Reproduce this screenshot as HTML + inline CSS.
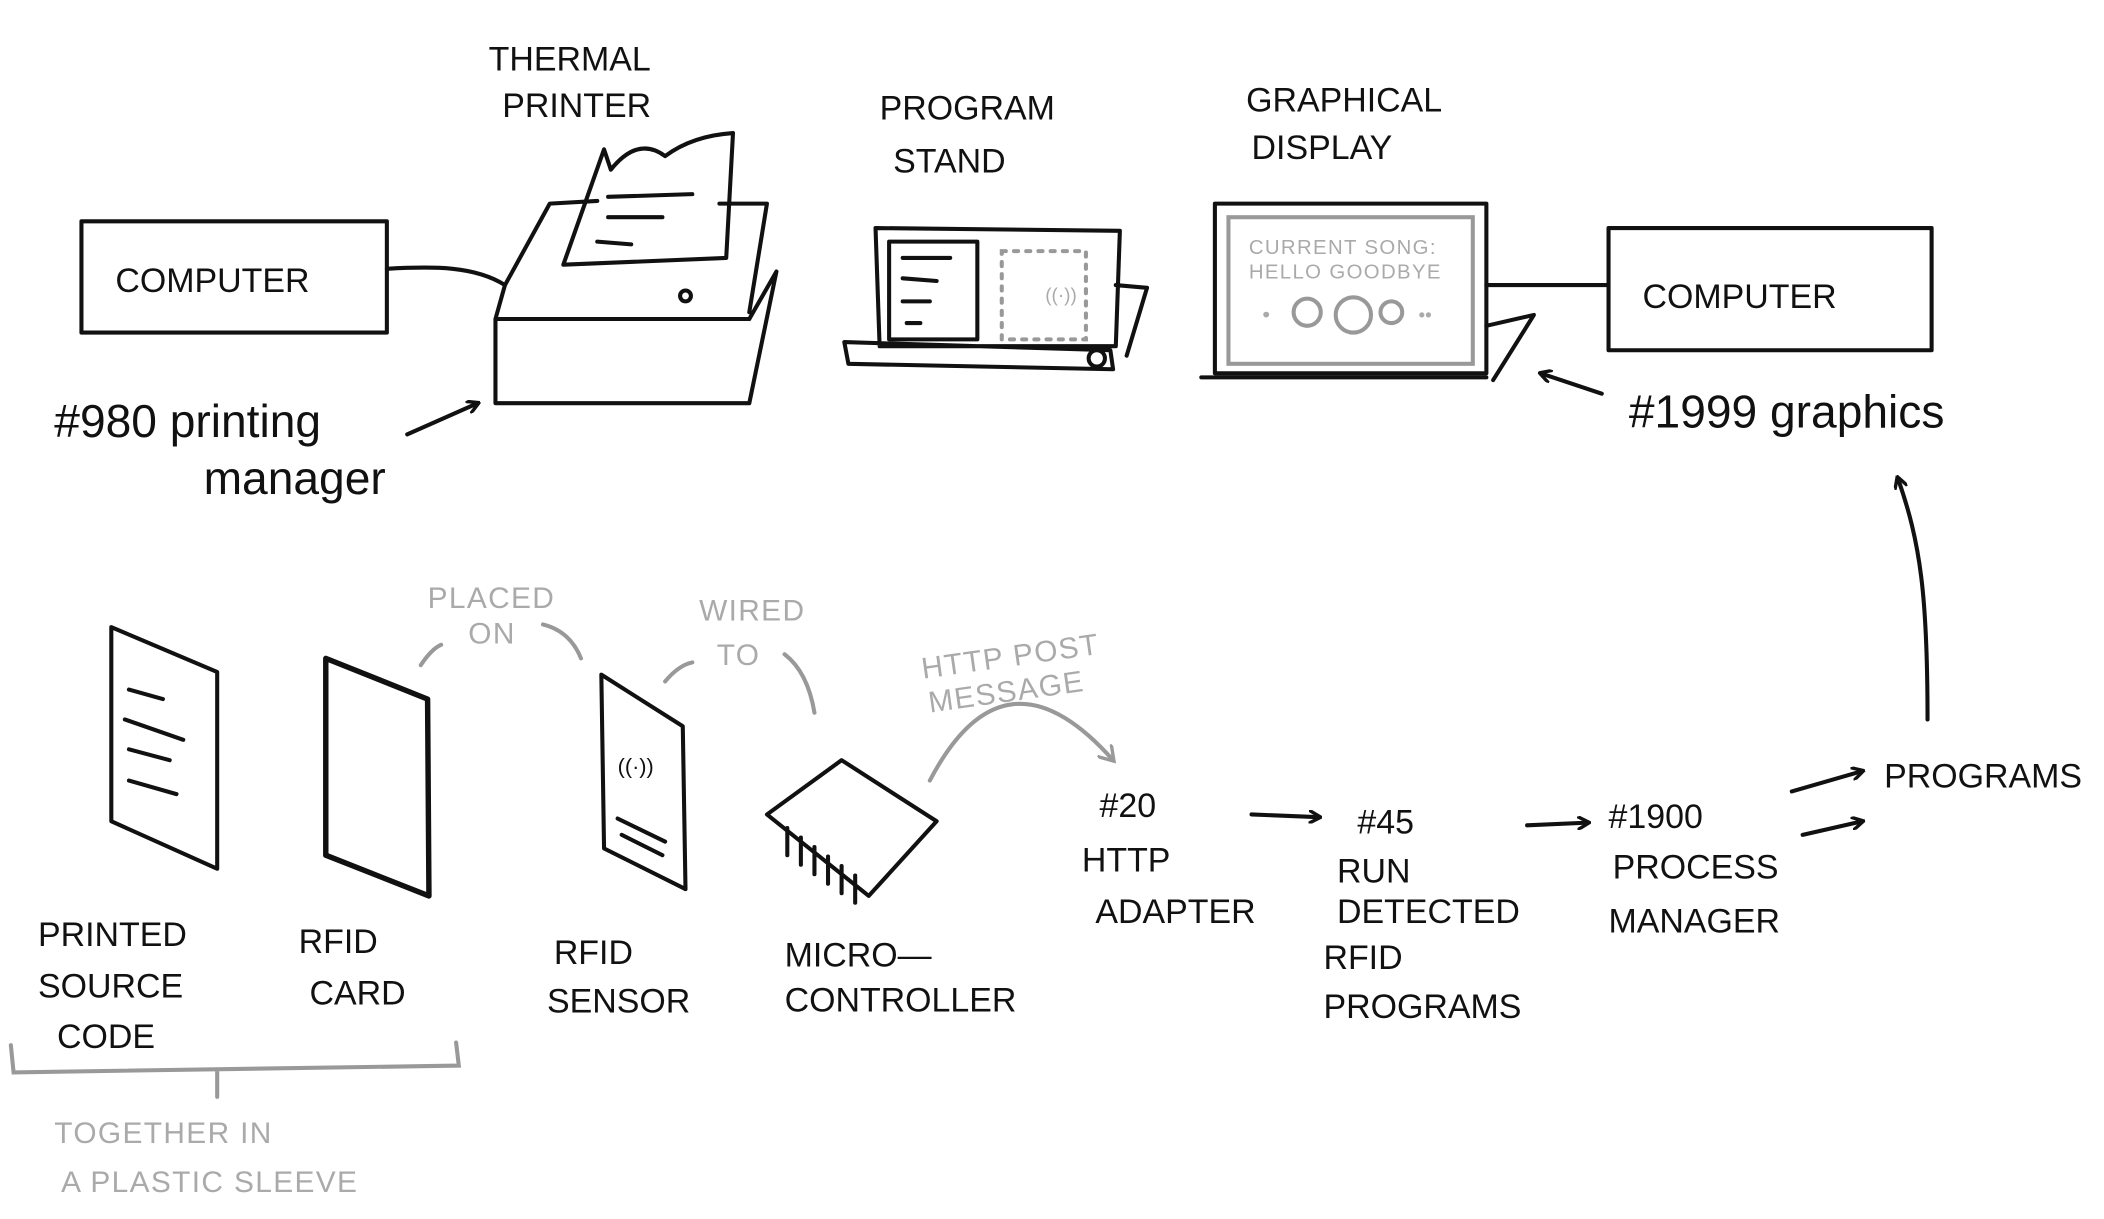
<!DOCTYPE html>
<html><head><meta charset="utf-8"><style>
html,body{margin:0;padding:0;background:#fff;}
svg{display:block}
text{font-family:"Liberation Sans",sans-serif;}
.b{fill:#111;font-size:25px;letter-spacing:0px}
.g{fill:#aaa;font-size:22px;letter-spacing:1px}
.h{fill:#111;font-size:34px}
</style></head><body>
<svg width="2104" height="1219" viewBox="0 0 1550 898" xmlns="http://www.w3.org/2000/svg">
<defs><marker id="a" markerWidth="10" markerHeight="10" refX="8" refY="5" orient="auto" markerUnits="userSpaceOnUse"><path d="M0,0 L9,5 L0,10" fill="none" stroke="#111" stroke-width="2.5"/></marker>
<marker id="ag" markerWidth="14" markerHeight="14" refX="10" refY="7" orient="auto" markerUnits="userSpaceOnUse"><path d="M0,0 L11,7 L0,14" fill="none" stroke="#999" stroke-width="2.5"/></marker></defs>
<g fill="none" stroke="#111" stroke-width="3" stroke-linecap="round" stroke-linejoin="round">
<rect x="60" y="163" width="225" height="82"/>
<path d="M285,198 C320,196 350,196 372,210"/>
<path d="M372,210 L405,150 L440,148 M530,150 L565,150 L552,230 M365,235 L552,235 M365,235 L365,297 L552,297 M552,235 L572,200 L552,297 M372,210 L365,235"/>
<path d="M415,195 L445,110 L450,125 Q470,100 490,115 Q510,100 540,98 L535,190 Z"/>
<path d="M448,145 L510,143 M448,160 L488,160 M440,178 L465,180"/>
<circle cx="505" cy="218" r="4"/>
<path d="M300,320 L352,297" marker-end="url(#a)"/>
<path d="M645,168 L825,170 L822,255 L648,255 Z M622,252 L818,258 L820,272 L625,268 Z M822,210 L845,212 L830,262"/>
<rect x="655" y="178" width="65" height="72"/>
<path d="M665,190 L700,190 M665,205 L690,207 M665,222 L685,222 M668,238 L678,238"/>
<circle cx="808" cy="264" r="6"/>
<rect x="895" y="150" width="200" height="125"/>
<path d="M885,278 L1095,278 M1095,240 L1130,232 L1100,280 M1095,210 L1185,210"/>
<rect x="1185" y="168" width="238" height="90"/>
<path d="M1180,290 L1135,275" marker-end="url(#a)"/>
<path d="M1420,530 C1420,440 1415,400 1398,352" marker-end="url(#a)"/>
<path d="M82,462 L160,495 L160,640 L82,605 Z"/>
<path d="M95,508 L120,515 M92,530 L135,545 M95,552 L125,560 M95,575 L130,585"/>
<path d="M240,485 L315,515 L316,660 L240,630 Z" stroke-width="4"/>
<path d="M443,497 L503,535 L505,655 L445,625 Z"/>
<text x="455" y="570" font-size="16" fill="#111" stroke="none">((·))</text>
<path d="M455,603 L490,620 M458,615 L488,630"/>
<path d="M565,600 L620,560 L690,605 L640,660 Z"/>
<path d="M580,610 L580,630 M590,617 L590,637 M600,624 L600,644 M610,631 L610,651 M620,638 L620,658 M630,645 L630,665"/>
<path d="M922,600 L972,602" marker-end="url(#a)"/>
<path d="M1125,608 L1170,606" marker-end="url(#a)"/>
<path d="M1320,583 L1372,568" marker-end="url(#a)"/>
<path d="M1328,615 L1372,605" marker-end="url(#a)"/>
</g>
<g fill="none" stroke="#999" stroke-width="3" stroke-linecap="round">
<rect x="905" y="160" width="180" height="108"/>
<rect x="738" y="185" width="62" height="65" stroke-dasharray="3,6"/>
<path d="M310,490 Q318,478 325,475 M400,460 Q420,465 428,485" />
<path d="M490,502 Q500,490 510,488 M578,482 Q595,495 600,525"/>
<path d="M685,575 Q740,470 820,560" marker-end="url(#ag)"/>
<path d="M8,770 L10,790 L338,785 L336,768 M160,788 L160,808"/>
<circle cx="963" cy="230" r="10"/><circle cx="997" cy="232" r="13"/><circle cx="1025" cy="230" r="8"/>
</g>
<text x="770" y="222" font-size="14" fill="#aaa">((·))</text>
<text x="920" y="187" font-size="15" fill="#aaa" letter-spacing="1">CURRENT SONG:</text>
<text x="920" y="205" font-size="15" fill="#aaa" letter-spacing="1">HELLO GOODBYE</text>
<text x="930" y="237" font-size="16" fill="#aaa">•</text><text x="1045" y="237" font-size="14" fill="#aaa">••</text>
<text class="b" x="85" y="215" font-size="30">COMPUTER</text>
<text class="b" x="360" y="52" font-size="24">THERMAL</text>
<text class="b" x="370" y="86" font-size="24">PRINTER</text>
<text class="b" x="648" y="88" font-size="24">PROGRAM</text>
<text class="b" x="658" y="127" font-size="24">STAND</text>
<text class="b" x="918" y="82" font-size="24">GRAPHICAL</text>
<text class="b" x="922" y="117" font-size="24">DISPLAY</text>
<text class="b" x="1210" y="227" font-size="34">COMPUTER</text>
<text class="h" x="40" y="322" font-size="38">#980 printing</text>
<text class="h" x="150" y="364">manager</text>
<text class="h" x="1200" y="315">#1999 graphics</text>
<text class="b" x="28" y="697">PRINTED</text>
<text class="b" x="28" y="735">SOURCE</text>
<text class="b" x="42" y="772">CODE</text>
<text class="b" x="220" y="702">RFID</text>
<text class="b" x="228" y="740">CARD</text>
<text class="b" x="408" y="710" font-size="28">RFID</text>
<text class="b" x="403" y="746">SENSOR</text>
<text class="b" x="578" y="712">MICRO—</text>
<text class="b" x="578" y="745" font-size="23">CONTROLLER</text>
<text class="b" x="810" y="602" font-size="32">#20</text>
<text class="b" x="797" y="642">HTTP</text>
<text class="b" x="807" y="680" font-size="24">ADAPTER</text>
<text class="b" x="1000" y="614" font-size="32">#45</text>
<text class="b" x="985" y="650">RUN</text>
<text class="b" x="985" y="680" font-size="23">DETECTED</text>
<text class="b" x="975" y="714">RFID</text>
<text class="b" x="975" y="750" font-size="23">PROGRAMS</text>
<text class="b" x="1185" y="610" font-size="30">#1900</text>
<text class="b" x="1188" y="647" font-size="24">PROCESS</text>
<text class="b" x="1185" y="687" font-size="24">MANAGER</text>
<text class="b" x="1388" y="580" font-size="24">PROGRAMS</text>
<text class="g" x="315" y="448">PLACED</text>
<text class="g" x="345" y="474">ON</text>
<text class="g" x="515" y="457">WIRED</text>
<text class="g" x="528" y="490">TO</text>
<text class="g" x="680" y="500" transform="rotate(-8 680 500)">HTTP POST</text>
<text class="g" x="685" y="525" transform="rotate(-8 685 525)">MESSAGE</text>
<text class="g" x="40" y="842" font-size="26">TOGETHER  IN</text>
<text class="g" x="45" y="878" font-size="26">A PLASTIC SLEEVE</text>
</svg>
</body></html>
